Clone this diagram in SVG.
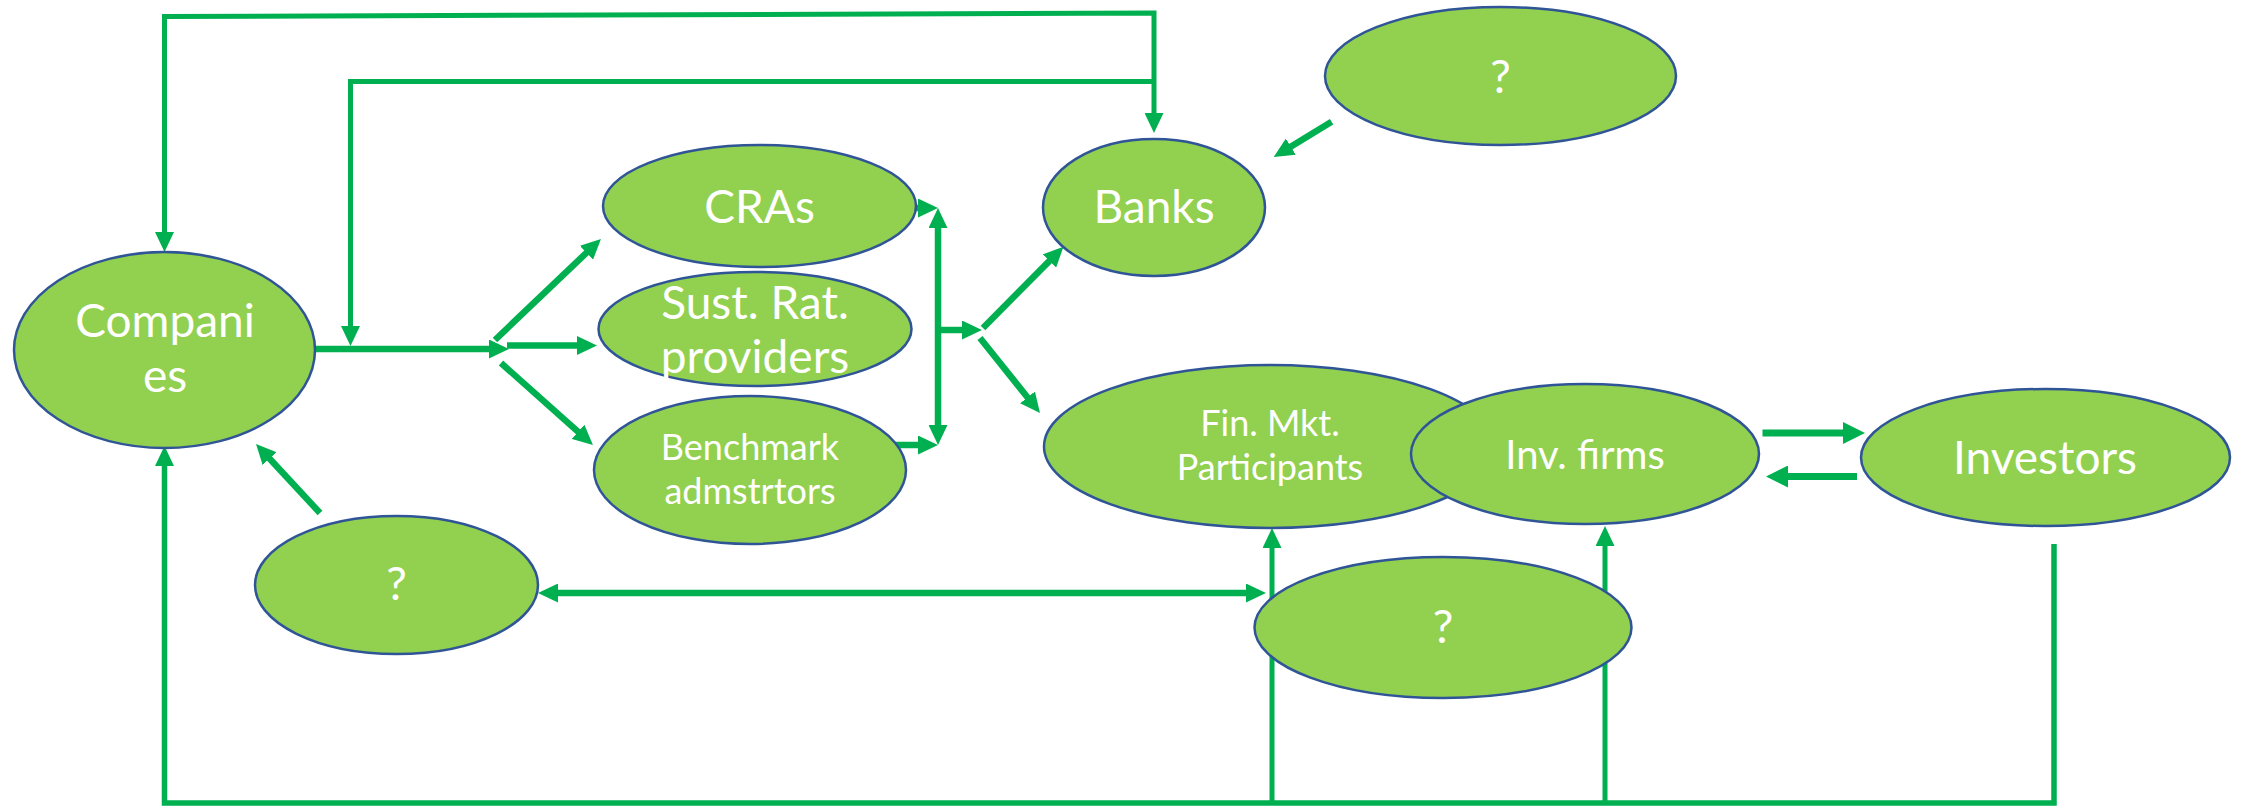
<svg xmlns="http://www.w3.org/2000/svg" width="2244" height="806" viewBox="0 0 2244 806">
  <style>
    .node ellipse { fill: #92D050; stroke: #2F5597; stroke-width: 2.5; }
    .node text { fill: #FFFFFF; font-family: Lato, "Open Sans", "Liberation Sans", sans-serif; text-anchor: middle; }
    .t46 { font-size: 46px; }
    .t40 { font-size: 40px; }
    .t36 { font-size: 36px; }
    #connectors path { fill: none; stroke: #00B050; stroke-linejoin: miter; stroke-linecap: butt; }
    .w4 { stroke-width: 5; }
    .w5 { stroke-width: 5.5; }
    .w6 { stroke-width: 6.5; }
    .w7 { stroke-width: 7; }
    .a { marker-end: url(#ah); }
    .aa { marker-start: url(#ah); marker-end: url(#ah); }
    .s { marker-start: url(#ah); }
    .ab { marker-end: url(#ahb); }
  </style>
  <defs>
    <marker id="ah" markerUnits="userSpaceOnUse" markerWidth="20" markerHeight="19" refX="4" refY="9.5" orient="auto-start-reverse">
      <path d="M0,0 L20,9.5 L0,19 z" fill="#00B050"/>
    </marker>
    <marker id="ahb" markerUnits="userSpaceOnUse" markerWidth="22" markerHeight="22" refX="5" refY="11" orient="auto-start-reverse">
      <path d="M0,0 L22,11 L0,22 z" fill="#00B050"/>
    </marker>
  </defs>

  <rect width="2244" height="806" fill="#FFFFFF"/>

  <g id="connectors">
    <!-- outer top loop: Companies <-> Banks -->
    <path class="w4 aa" d="M164.5,236 L164.5,16.5 L1154,13 L1154,117"/>
    <!-- inner top loop into the Companies output line -->
    <path class="w4 a" d="M1154,81.5 L350.5,81.5 L350.5,330"/>
    <!-- Companies to the rating / benchmark fan -->
    <path class="w6 a" d="M315,349 L493,349"/>
    <path class="w6 a" d="M495,340 L589.4,250"/>
    <path class="w6 a" d="M507,345.5 L581,345.5"/>
    <path class="w6 a" d="M501,363 L581,434.4"/>
    <!-- collector on the right of the fan -->
    <path class="w6 a" d="M914,208 L922,208"/>
    <path class="w6 aa" d="M938,224 L938,429"/>
    <path class="w6 a" d="M893,445 L922,445"/>
    <path class="w6 a" d="M938,330 L966,330"/>
    <path class="w6 a" d="M983,328 L1052.2,258.1"/>
    <path class="w6 a" d="M980,338 L1030,400.5"/>
    <!-- top-right unknown to Banks -->
    <path class="w6 a" d="M1331.6,121.7 L1287.4,148.7"/>
    <!-- lower-left unknown to Companies -->
    <path class="w6 a" d="M320,513 L266.9,455.7"/>
    <!-- between the two lower unknowns -->
    <path class="w6 aa" d="M554,593 L1250,593"/>
    <!-- bottom feedback loop -->
    <path class="w5 s" d="M164.5,462 L164.5,803 L2054,803 L2054,544"/>
    <path class="w4 a" d="M1272,803 L1272,544"/>
    <path class="w4 a" d="M1605,803 L1605,542"/>
    <!-- Inv. firms <-> Investors -->
    <path class="w7 ab" d="M1762.5,433 L1848,433"/>
    <path class="w7 ab" d="M1857,476.5 L1783,476.5"/>
  </g>

  <g id="companies" class="node">
    <ellipse cx="164.5" cy="350" rx="150.5" ry="98"/>
    <text class="t46" x="165" y="337">Compani</text>
    <text class="t46" x="165" y="392">es</text>
  </g>
  <g id="cras" class="node">
    <ellipse cx="759.5" cy="206" rx="156.5" ry="61"/>
    <text class="t46" x="759.5" y="223">CRAs</text>
  </g>
  <g id="sust-rat" class="node">
    <ellipse cx="755" cy="329" rx="156.5" ry="57"/>
    <text class="t46" x="755" y="319">Sust. Rat.</text>
    <text class="t46" x="755" y="373">providers</text>
  </g>
  <g id="benchmark" class="node">
    <ellipse cx="750" cy="470" rx="156" ry="74"/>
    <text class="t36" x="750" y="460">Benchmark</text>
    <text class="t36" x="750" y="504">admstrtors</text>
  </g>
  <g id="banks" class="node">
    <ellipse cx="1154" cy="207.5" rx="111" ry="68.5"/>
    <text class="t46" x="1154" y="223">Banks</text>
  </g>
  <g id="unknown-top" class="node">
    <ellipse cx="1500.5" cy="76" rx="175.5" ry="69"/>
    <text class="t46" x="1500.5" y="93">?</text>
  </g>
  <g id="fin-mkt" class="node">
    <ellipse cx="1270" cy="446.5" rx="226" ry="81.5"/>
    <text class="t36" x="1270" y="436">Fin. Mkt.</text>
    <text class="t36" x="1270" y="480">Participants</text>
  </g>
  <g id="inv-firms" class="node">
    <ellipse cx="1585" cy="454" rx="174" ry="70"/>
    <text class="t40" x="1585" y="469">Inv. firms</text>
  </g>
  <g id="investors" class="node">
    <ellipse cx="2045.5" cy="457.5" rx="184.5" ry="68.5"/>
    <text class="t46" x="2045" y="474">Investors</text>
  </g>
  <g id="unknown-left" class="node">
    <ellipse cx="396.5" cy="585" rx="141.5" ry="69"/>
    <text class="t46" x="396.5" y="600">?</text>
  </g>
  <g id="unknown-bottom" class="node">
    <ellipse cx="1443" cy="627.5" rx="188.5" ry="70.5"/>
    <text class="t46" x="1443" y="643">?</text>
  </g>
</svg>
